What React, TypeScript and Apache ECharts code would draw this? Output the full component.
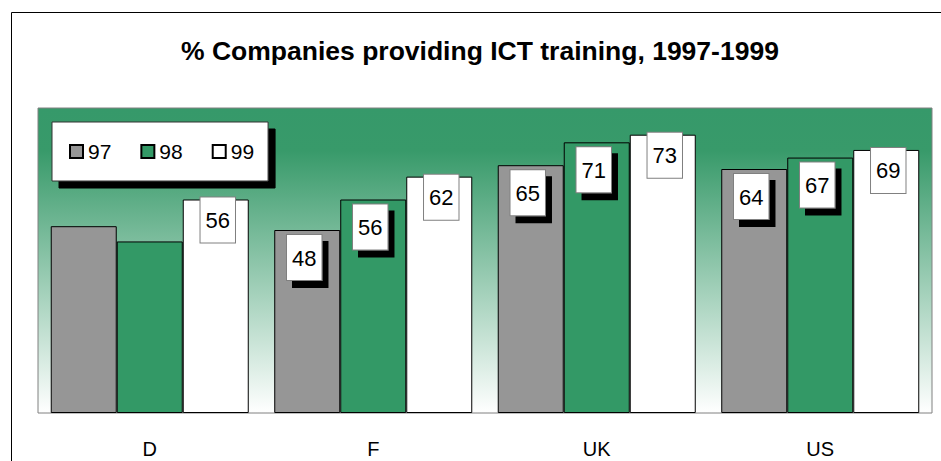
import React, { useEffect, useRef } from "react";
import * as echarts from "echarts";

const titleText = "% Companies providing ICT training, 1997-1999";
const categories = ["D", "F", "UK", "US"];
const seriesNames = ["97", "98", "99"];
const values97 = [49, 48, 65, 64];
const values98 = [45, 56, 71, 67];
const values99 = [56, 62, 73, 69];
const showLabel97 = [false, true, true, true];
const showLabel98 = [false, true, true, true];
const showLabel99 = [true, true, true, true];
const yMin = 0;
const yMax = 80;

const FONT = "'Liberation Sans', Arial, sans-serif";

export default function App() {
  const ref = useRef<HTMLDivElement>(null);

  useEffect(() => {
    if (!ref.current) return;
    const chart = echarts.init(ref.current, null, { renderer: "svg" });

    const boxLabel = (shadow: boolean, offset: number[]) => ({
      show: true,
      position: "insideTop",
      distance: 5,
      offset,
      color: "#000",
      fontFamily: FONT,
      fontSize: 22,
      lineHeight: 22,
      backgroundColor: "#fff",
      borderColor: "#808080",
      borderWidth: 1,
      padding: [12, 5, 11, 5],
      shadowColor: shadow ? "#000" : "transparent",
      shadowBlur: 0,
      shadowOffsetX: shadow ? 6 : 0,
      shadowOffsetY: shadow ? 7 : 0,
    });

    const mk = (vals: number[], shows: boolean[]) =>
      vals.map((v, i) => ({ value: v, label: { show: shows[i] } }));

    const colors = ["#969696", "#339966", "#ffffff"];
    const allVals = [values97, values98, values99];
    const allShows = [showLabel97, showLabel98, showLabel99];

    chart.setOption({
      animation: false,
      textStyle: { fontFamily: FONT },
      title: {
        text: titleText,
        left: 181,
        top: 37,
        padding: 0,
        textStyle: {
          fontFamily: FONT,
          fontSize: 26.5,
          fontWeight: "bold",
          color: "#000",
        },
      },
      legend: {
        data: seriesNames,
        left: 52,
        top: 122,
        orient: "horizontal",
        padding: [19, 14, 19, 17],
        itemGap: 29,
        itemWidth: 13,
        itemHeight: 13,
        icon: "rect",
        backgroundColor: "#fff",
        borderColor: "#333",
        borderWidth: 1,
        shadowColor: "#000",
        shadowBlur: 0,
        shadowOffsetX: 7,
        shadowOffsetY: 7,
        textStyle: { fontFamily: FONT, fontSize: 21, color: "#000" },
        selectedMode: false,
      },
      grid: {
        left: 38,
        top: 108,
        right: 9,
        bottom: 48,
        show: true,
        borderColor: "#808080",
        borderWidth: 1,
        backgroundColor: new echarts.graphic.LinearGradient(0, 0, 0, 1, [
          { offset: 0, color: "#36996a" },
          { offset: 0.14, color: "#389a6a" },
          { offset: 1, color: "#ffffff" },
        ]),
      },
      xAxis: {
        type: "category",
        data: categories,
        axisLine: { show: false },
        axisTick: { show: false },
        axisLabel: {
          fontFamily: FONT,
          fontSize: 20,
          color: "#000",
          margin: 26,
        },
      },
      yAxis: {
        type: "value",
        min: yMin,
        max: yMax,
        show: false,
        splitLine: { show: false },
      },
      series: seriesNames.map((name, si) => ({
        name,
        type: "bar",
        barGap: "0%",
        barCategoryGap: "11.4%",
        data: mk(allVals[si], allShows[si]),
        itemStyle: {
          color: colors[si],
          borderColor: "#000",
          borderWidth: 1,
        },
        label: si < 2 ? boxLabel(true, [-3, 0]) : boxLabel(false, [2, -7]),
      })),
      graphic: [
        {
          type: "rect",
          shape: { x: 11.5, y: 12.5, width: 1000, height: 1000 },
          style: { fill: "none", stroke: "#000", lineWidth: 1 },
          silent: true,
          z: 100,
        },
      ],
    });

    return () => chart.dispose();
  }, []);

  return (
    <div
      ref={ref}
      style={{ position: "fixed", left: 0, top: 0, width: 941, height: 461, background: "#fff" }}
    />
  );
}
